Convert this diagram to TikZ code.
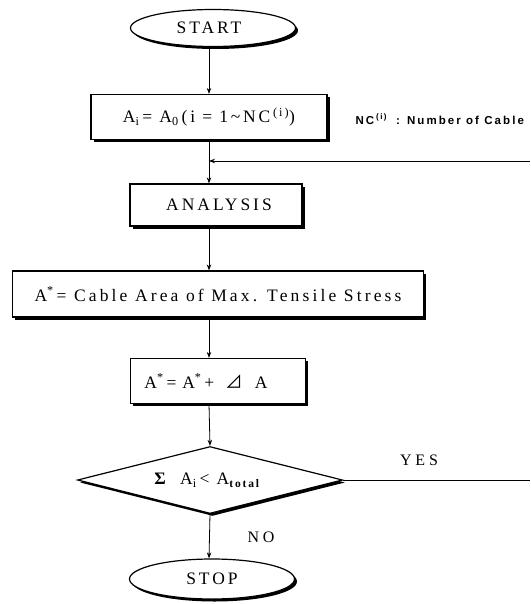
\documentclass[tikz,border=0pt]{standalone}
\usepackage{fontspec}
\setmainfont{Liberation Serif}
\newfontfamily\wide[LetterSpace=17]{Liberation Serif}
\newfontfamily\midsp[LetterSpace=18]{Liberation Serif}
\newfontfamily\smallsp[LetterSpace=8]{Liberation Serif}
\newfontfamily\boxsp[LetterSpace=16]{Liberation Serif}
\newfontfamily\lblfont[LetterSpace=24]{Liberation Serif}
\newfontfamily\notefont[LetterSpace=18]{Liberation Sans}
\newfontfamily\cjk{Noto Sans CJK JP}
\usetikzlibrary{shapes.geometric,shadows,arrows.meta}
\tikzset{
  base/.style={draw=black, line width=1.2pt, fill=white, inner sep=0pt,
    drop shadow={shadow xshift=2.5pt, shadow yshift=-2.5pt, fill=black, opacity=1},
    font=\fontsize{17.5}{20}\selectfont},
  term/.style={base, ellipse, minimum width=165pt, minimum height=37pt},
  procbox/.style={base, rectangle},
  decide/.style={base, diamond, minimum width=265pt, minimum height=67pt},
  conn/.style={line width=0.8pt, -{Stealth[length=6pt,width=4.5pt]}},
  plain/.style={line width=0.8pt},
  lbl/.style={font=\fontsize{16}{18}\selectfont\lblfont},
  txt/.style={inner sep=0pt, font=\fontsize{17.5}{20}\selectfont}
}
\begin{document}
\begin{tikzpicture}[x=1pt,y=-1pt]
\useasboundingbox (0,0) rectangle (530,604);
\coordinate (ax) at (209,0);
\node[term] (start) at (213,28) {\hspace*{-8pt}\wide START};
\node[procbox, minimum width=236pt, minimum height=45pt] (b1) at (209,117)
  {\boxsp A\textsubscript{i}\,= A\textsubscript{0}\,(i = 1\textasciitilde NC\,\textsuperscript{(i)})};
\node[anchor=west, font=\fontsize{11.5}{13}\selectfont\notefont\bfseries] (note) at (352,119)
  {NC\,\textsuperscript{(i)}\,\, : Number of Cable};
\node[procbox, minimum width=172pt, minimum height=42pt] (ana) at (216,205) {\hspace*{6pt}\wide ANALYSIS};
\node[procbox, minimum width=411pt, minimum height=46pt] (astar) at (218,294)
  {\midsp A\textsuperscript{*}\,= Cable Area of Max. Tensile Stress};
\node[procbox, minimum width=175pt, minimum height=45pt] (da) at (218,381)
  {\hspace*{-24pt}\smallsp A\textsuperscript{*}\,= A\textsuperscript{*}\,+\ \ {\cjk ⊿}\ \ A};
\node[decide] (dec) at (210,480) {};
\node[txt] (dectext) at (207,480)
  {\boxsp{\bfseries Σ}\ \ A\textsubscript{i}\,< A\textsubscript{\bfseries\fontsize{11.5}{12}\selectfont total}};
\node[term, minimum height=40pt] (stop) at (212,579) {\wide STOP};
\node[lbl] (yes) at (419,460) {YES};
\node[lbl] (no) at (261,537) {NO};
\coordinate (r1) at (530,161);
\coordinate (r2) at (530,480);
\draw[conn] (ax |- start.south) -- (ax |- b1.north);
\draw[conn] (ax |- b1.south) -- (ax |- ana.north);
\draw[conn] (r1) -- (ax |- r1);
\draw[conn] (ax |- ana.south) -- (ax |- astar.north);
\draw[conn] (ax |- astar.south) -- (ax |- da.north);
\draw[conn] (ax |- da.south) -- (dec.north);
\draw[conn] (dec.south) -- (ax |- stop.north);
\draw[plain] (dec.east) -- (r2);
\end{tikzpicture}
\end{document}
